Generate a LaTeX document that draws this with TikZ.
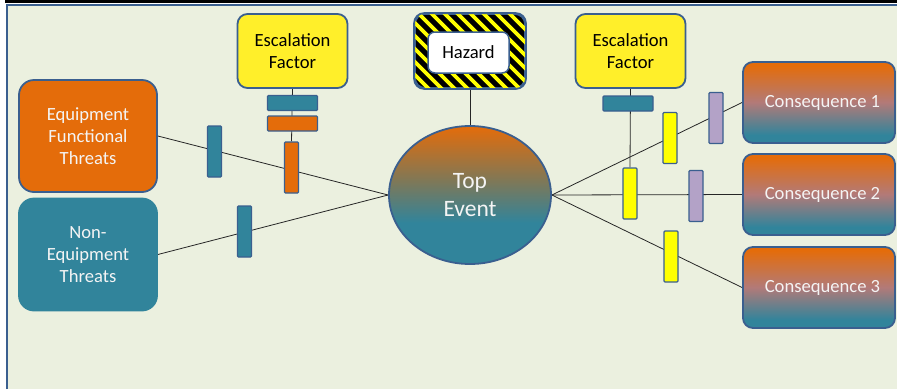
\documentclass[tikz,border=0pt]{standalone}
\usepackage{fontspec}
\setmainfont{Carlito}
\usetikzlibrary{shapes.geometric,backgrounds}

\definecolor{bowOrange}{HTML}{E46C0A}
\definecolor{bowTeal}{HTML}{31849B}
\definecolor{bowEdge}{HTML}{3A5F8F}
\definecolor{bowPanel}{HTML}{EBF0DF}
\definecolor{bowYellow}{HTML}{FFEF2A}
\definecolor{bowBar}{HTML}{FFFF00}
\definecolor{bowLilac}{HTML}{B3A2C7}
\definecolor{bowText}{HTML}{F4F4F4}
\definecolor{bowLine}{HTML}{262626}
\definecolor{bowOlive}{HTML}{7E7858}
\definecolor{bowMauve}{HTML}{B27A78}

% orange-to-teal fills (path spans 25bp..75bp of the shading)
\pgfdeclareverticalshading{topevent}{100bp}{color(0bp)=(bowTeal); color(25bp)=(bowTeal); color(40bp)=(bowTeal); color(55bp)=(bowOlive); color(75bp)=(bowOrange); color(100bp)=(bowOrange)}
\pgfdeclareverticalshading{outcome}{100bp}{color(0bp)=(bowTeal); color(25bp)=(bowTeal); color(30bp)=(bowTeal); color(50bp)=(bowMauve); color(73bp)=(bowOrange); color(100bp)=(bowOrange)}

\begin{document}
\begin{tikzpicture}[x=1pt,y=-1pt,
  txt/.style={font=\fontsize{18.6}{22}\selectfont, align=center},
  box/.style={txt, rounded corners=10pt, draw=bowEdge, line width=1.8pt, inner sep=0pt},
  efbox/.style={box, fill=bowYellow, text=black, minimum width=110pt, minimum height=74pt},
  threat/.style={box, rounded corners=15pt, text=bowText, minimum width=138pt, minimum height=112pt},
  cons/.style={box, shading=outcome, text=bowText, minimum width=152pt, minimum height=81pt},
  topev/.style={ellipse, draw=bowEdge, line width=1.8pt, shading=topevent, text=bowText,
    font=\fontsize{23.5}{28}\selectfont, align=center, inner sep=0pt,
    minimum width=162pt, minimum height=138pt},
  bar/.style={draw=bowEdge, line width=1.3pt, inner sep=0pt, rounded corners=1pt},
  vbar/.style={bar, minimum width=14pt, minimum height=51pt},
  hbar/.style={bar, minimum width=50pt, minimum height=15pt},
  conn/.style={draw=bowLine, line width=0.8pt}]

\useasboundingbox (0,0) rectangle (897,389);

% threats, top event and consequences
\node[efbox] (ef1) at (292.5,51) {Escalation\\Factor};
\node[efbox] (ef2) at (630.5,51) {Escalation\\Factor};
\node[threat, fill=bowOrange] (eft) at (88,136) {Equipment\\Functional\\Threats};
\node[threat, fill=bowTeal, draw=bowTeal] (net) at (88,254.5) {Non-\\Equipment\\Threats};
\node[topev] (te) at (470,195) {Top\\Event};
\node[cons] (c1) at (819,102.5) {\hspace*{7pt}Consequence 1};
\node[cons] (c2) at (819,194.5) {\hspace*{7pt}Consequence 2};
\node[cons] (c3) at (819,287.5) {\hspace*{7pt}Consequence 3};

% hazard sign: black and yellow stripes with a white label
\node[box, fill=black, minimum width=110pt, minimum height=74pt] (hz) at (470,51) {};
\begin{scope}
  \clip[rounded corners=10pt] (hz.north west) rectangle (hz.south east);
  \foreach \k in {-9,...,18}
    \draw[bowBar, line width=3.8pt] (405+\k*13,0) -- ++(100,100);
\end{scope}
\draw[bowEdge, line width=1.8pt, rounded corners=10pt] (hz.north west) rectangle (hz.south east);
\node[txt, fill=white, draw=bowEdge, line width=1.5pt, rounded corners=7pt, inner sep=0pt,
  minimum width=81pt, minimum height=41pt] (hzl) at (468.5,52.5) {Hazard};

% barriers
\node[vbar, fill=bowTeal] (b1) at (214.5,151.5) {};
\node[hbar, fill=bowTeal] (b2) at (292.5,103) {};
\node[hbar, fill=bowOrange] (b3) at (292.5,123.5) {};
\node[vbar, fill=bowOrange] (b4) at (291.5,167.5) {};
\node[vbar, fill=bowTeal] (b5) at (244.5,231.5) {};
\node[hbar, fill=bowTeal] (b6) at (628,103.5) {};
\node[vbar, fill=bowBar] (b7) at (630,193.5) {};
\node[vbar, fill=bowBar] (b8) at (670,138) {};
\node[vbar, fill=bowLilac] (b9) at (716,118) {};
\node[vbar, fill=bowLilac] (b10) at (696,196) {};
\node[vbar, fill=bowBar] (b11) at (671,256.5) {};

\begin{pgfonlayer}{background}
  % panel and its frame
  \fill[bowPanel] (7,5) rectangle (897,389);
  \fill[black] (5,0) rectangle (897,3.3);
  \draw[bowEdge, line width=1.3pt] (7,389) -- (7,5) -- (897,5);
  % connectors
  \draw[conn] (eft.east) -- (te.west);
  \draw[conn] (net.east) -- (te.west);
  \draw[conn] (te.east) -- (c1.west);
  \draw[conn] (te.east) -- (c2.west);
  \draw[conn] (te.east) -- (c3.west);
  \draw[conn] (hz.south) -- (te.north);
  \draw[conn] (ef1.south) -- (b4.north);
  \draw[conn] (ef2.south) -- (b7.north);
\end{pgfonlayer}
\end{tikzpicture}
\end{document}
